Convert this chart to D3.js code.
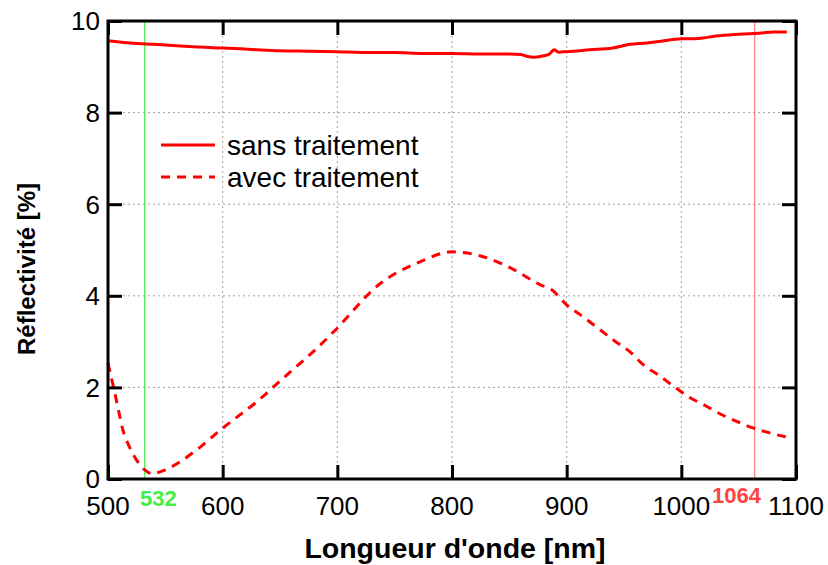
<!DOCTYPE html>
<html>
<head>
<meta charset="utf-8">
<script src="https://cdnjs.cloudflare.com/ajax/libs/d3/7.8.5/d3.min.js"></script>
<style>
  body { margin: 0; background: #fff; }
  text { font-family: "Liberation Sans", Arial, sans-serif; }
</style>
</head>
<body>
<svg id="chart"></svg>
<script>
// Wavelengths (nm) and reflectivity (%)
var sansWl = [500, 520, 540, 560, 580, 600, 625, 650, 675, 700, 725, 750, 775, 800, 825, 850, 860, 865, 872, 880, 885, 889, 893, 900, 920, 940, 955, 970, 985, 1000, 1015, 1030, 1050, 1070, 1080, 1092];
var sansVal = [9.57, 9.52, 9.49, 9.46, 9.43, 9.41, 9.38, 9.35, 9.34, 9.33, 9.31, 9.31, 9.29, 9.29, 9.28, 9.28, 9.27, 9.23, 9.21, 9.24, 9.28, 9.37, 9.32, 9.33, 9.37, 9.41, 9.49, 9.52, 9.57, 9.61, 9.62, 9.67, 9.71, 9.74, 9.76, 9.76];

var avecWl = [500, 506, 510, 513, 518, 524, 532, 538, 550, 563, 577, 600, 615, 630, 643, 659, 682, 697, 738, 772, 800, 825, 851, 877, 887, 900, 915, 928, 941, 956, 967, 980, 993, 1006, 1021, 1034, 1049, 1063, 1075, 1091];
var avecVal = [2.53, 1.87, 1.40, 1.07, 0.74, 0.45, 0.20, 0.12, 0.20, 0.38, 0.63, 1.11, 1.40, 1.69, 1.98, 2.34, 2.85, 3.22, 4.28, 4.74, 4.96, 4.87, 4.61, 4.24, 4.13, 3.80, 3.53, 3.28, 3.03, 2.76, 2.49, 2.27, 2.03, 1.80, 1.60, 1.42, 1.25, 1.11, 1.02, 0.92];

var xTicks = [500, 600, 700, 800, 900, 1000, 1100];
var yTicks = [0, 2, 4, 6, 8, 10];
var laserWl = [532, 1064];
var laserColor = ["#44ee44", "#ff7a7a"];
var laserLabelColor = ["#44ee44", "#ff4444"];
var legendLabels = ["sans traitement", "avec traitement"];

var width = 828, height = 565;
// plot box (don't call it "top": window.top is read-only)
var plotL = 108, plotR = 796, plotT = 21, plotB = 479;

var svg = d3.select("#chart").attr("width", width).attr("height", height);

var x = d3.scaleLinear().domain([500, 1100]).range([plotL, plotR]);
var y = d3.scaleLinear().domain([0, 10]).range([plotB, plotT]);

// dotted grid
svg.append("g").selectAll("line")
  .data(xTicks.slice(1, -1))
  .join("line")
  .attr("x1", d => x(d)).attr("x2", d => x(d))
  .attr("y1", plotT).attr("y2", plotB)
  .attr("stroke", "#a0a0a0").attr("stroke-width", 1).attr("stroke-dasharray", "2,3");
svg.append("g").selectAll("line")
  .data(yTicks.slice(1, -1))
  .join("line")
  .attr("x1", plotL).attr("x2", plotR)
  .attr("y1", d => y(d)).attr("y2", d => y(d))
  .attr("stroke", "#a0a0a0").attr("stroke-width", 1).attr("stroke-dasharray", "2,3");

// laser lines
svg.append("g").selectAll("line")
  .data(laserWl)
  .join("line")
  .attr("x1", d => x(d)).attr("x2", d => x(d))
  .attr("y1", plotT).attr("y2", plotB)
  .attr("stroke", (d, i) => laserColor[i]).attr("stroke-width", 1.2);

// curves
var sansData = sansWl.map((d, i) => [d, sansVal[i]]);
var avecData = avecWl.map((d, i) => [d, avecVal[i]]);
var line = d3.line().x(d => x(d[0])).y(d => y(d[1])).curve(d3.curveMonotoneX);

svg.append("path").datum(sansData)
  .attr("d", line).attr("fill", "none")
  .attr("stroke", "#ff0000").attr("stroke-width", 3);
svg.append("path").datum(avecData)
  .attr("d", line).attr("fill", "none")
  .attr("stroke", "#ff0000").attr("stroke-width", 3)
  .attr("stroke-dasharray", "9,7");

// axes with inward ticks, on all four sides
var tickLen = 14;
svg.append("g").attr("transform", "translate(0," + plotB + ")")
  .call(d3.axisBottom(x).tickValues(xTicks).tickSizeInner(-tickLen).tickSizeOuter(0).tickFormat(""));
svg.append("g").attr("transform", "translate(0," + plotT + ")")
  .call(d3.axisTop(x).tickValues(xTicks).tickSizeInner(-tickLen).tickSizeOuter(0).tickFormat(""));
svg.append("g").attr("transform", "translate(" + plotL + ",0)")
  .call(d3.axisLeft(y).tickValues(yTicks).tickSizeInner(-tickLen).tickSizeOuter(0).tickFormat(""));
svg.append("g").attr("transform", "translate(" + plotR + ",0)")
  .call(d3.axisRight(y).tickValues(yTicks).tickSizeInner(-tickLen).tickSizeOuter(0).tickFormat(""));
svg.selectAll(".tick line").attr("stroke", "#000").attr("stroke-width", 3);
svg.selectAll(".domain").remove();

// frame
svg.append("rect")
  .attr("x", plotL).attr("y", plotT)
  .attr("width", plotR - plotL).attr("height", plotB - plotT)
  .attr("fill", "none").attr("stroke", "#000").attr("stroke-width", 3);

// tick labels
svg.append("g").selectAll("text")
  .data(xTicks)
  .join("text")
  .attr("x", d => x(d)).attr("y", 515)
  .attr("text-anchor", "middle").attr("font-size", 26)
  .text(d => d);
svg.append("g").selectAll("text")
  .data(yTicks)
  .join("text")
  .attr("x", 100).attr("y", d => y(d)).attr("dy", "0.36em")
  .attr("text-anchor", "end").attr("font-size", 26)
  .text(d => d);

// laser labels
svg.append("text").attr("x", 140).attr("y", 506)
  .attr("font-size", 22).attr("font-weight", "bold")
  .attr("fill", laserLabelColor[0]).text(laserWl[0]);
svg.append("text").attr("x", 712).attr("y", 503)
  .attr("font-size", 22).attr("font-weight", "bold")
  .attr("fill", laserLabelColor[1]).text(laserWl[1]);

// axis titles
svg.append("text").attr("x", 455).attr("y", 558)
  .attr("text-anchor", "middle").attr("font-size", 28.5).attr("font-weight", "bold")
  .text("Longueur d'onde [nm]");
svg.append("text")
  .attr("transform", "translate(35,269) rotate(-90)")
  .attr("text-anchor", "middle").attr("font-size", 24).attr("font-weight", "bold")
  .text("Réflectivité [%]");

// legend
var legendY = [145, 177];
legendLabels.forEach(function(lab, i) {
  svg.append("line")
    .attr("x1", 161).attr("x2", 215)
    .attr("y1", legendY[i]).attr("y2", legendY[i])
    .attr("stroke", "#ff0000").attr("stroke-width", 3)
    .attr("stroke-dasharray", i === 1 ? "9,7" : null);
  svg.append("text")
    .attr("x", 227).attr("y", legendY[i] + 9.5)
    .attr("font-size", 28)
    .text(lab);
});
</script>
</body>
</html>
